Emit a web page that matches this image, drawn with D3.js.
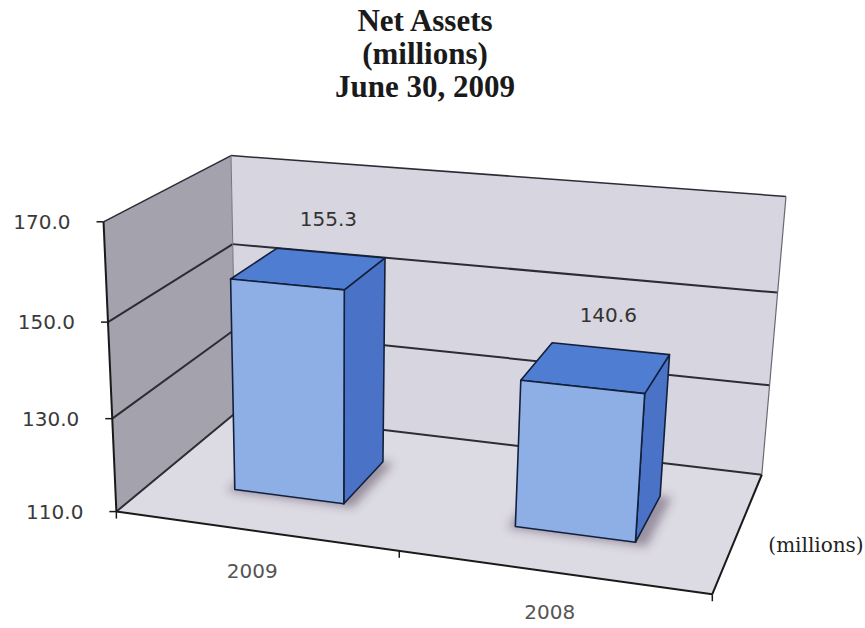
<!DOCTYPE html>
<html>
<head>
<meta charset="utf-8">
<script src="https://cdn.jsdelivr.net/npm/d3@7.9.0/dist/d3.min.js"></script>
<style>
  body { margin: 0; background: #fff; }
</style>
</head>
<body>
<svg width="865" height="628"></svg>
<script>
// chart data
const titleLines = ["Net Assets", "(millions)", "June 30, 2009"];
const categories = ["2009", "2008"];
const values = [155.3, 140.6];
const yTicks = [110, 130, 150, 170];
const unitLabel = "(millions)";

// camera calibration: unit box corners (x, y, z) and where they sit on the page
const boxCorners = [[0,0,0],[1,0,0],[0,0,1],[1,0,1],[0,1,0],[0,1,1],[1,1,1]];
const pageCorners = [[120,508],[712,598],[232,417],[763,470],[100,222],[235,154],[785,198]];

// least squares fit of a 3x4 projection (p34 = 1)
function fitCamera(world, page) {
  let A = [], b = [];
  world.forEach(([X, Y, Z], i) => {
    let [u, v] = page[i];
    A.push([X, Y, Z, 1, 0, 0, 0, 0, -u*X, -u*Y, -u*Z]); b.push(u);
    A.push([0, 0, 0, 0, X, Y, Z, 1, -v*X, -v*Y, -v*Z]); b.push(v);
  });
  let n = 11;
  let M = d3.range(n).map(i => d3.range(n + 1).map(j => {
    if (j === n) return d3.sum(A, (r, k) => r[i] * b[k]);
    return d3.sum(A, r => r[i] * r[j]);
  }));
  for (let c = 0; c < n; c++) {
    let piv = c;
    for (let r = c + 1; r < n; r++) if (Math.abs(M[r][c]) > Math.abs(M[piv][c])) piv = r;
    [M[c], M[piv]] = [M[piv], M[c]];
    for (let r = 0; r < n; r++) {
      if (r === c) continue;
      let f = M[r][c] / M[c][c];
      for (let k = c; k <= n; k++) M[r][k] -= f * M[c][k];
    }
  }
  return M.map((r, i) => r[n] / r[i]);
}
const p = fitCamera(boxCorners, pageCorners);
function project([X, Y, Z]) {
  let w = p[8]*X + p[9]*Y + p[10]*Z + 1;
  return [(p[0]*X + p[1]*Y + p[2]*Z + p[3]) / w, (p[4]*X + p[5]*Y + p[6]*Z + p[7]) / w];
}

let svg = d3.select("svg");
let line = d3.line();
let x = d3.scaleBand().domain(categories).range([0, 1]).paddingInner(0.6).paddingOuter(0.3);
let y = d3.scaleLinear().domain([110, 170]).range([0, 1]);
let zFront = 0.3, zBack = 0.7;

function poly(pts, fill, stroke, sw) {
  return svg.append("path")
    .attr("d", line(pts.map(project)) + "Z")
    .attr("fill", fill)
    .attr("stroke", stroke || "none")
    .attr("stroke-width", sw || 0)
    .attr("stroke-linejoin", "round");
}
function seg(a, b, stroke, sw) {
  return svg.append("path")
    .attr("d", line([a, b].map(project)))
    .attr("stroke", stroke).attr("stroke-width", sw).attr("fill", "none");
}

let defs = svg.append("defs");
defs.append("filter").attr("id", "blur").attr("x", "-50%").attr("y", "-50%").attr("width", "200%").attr("height", "200%")
  .append("feGaussianBlur").attr("stdDeviation", 5);

// walls and floor
poly([[0,0,0],[0,0,1],[0,1,1],[0,1,0]], "#a4a2ad");
poly([[0,0,1],[1,0,1],[1,1,1],[0,1,1]], "#d7d5df");
poly([[0,0,0],[1,0,0],[1,0,1],[0,0,1]], "#dcdae2");

// gridlines on side and back wall
yTicks.forEach(t => {
  let v = y(t);
  let w = t === 170 ? 1.5 : 2;
  seg([0, v, 0], [0, v, 1], "#2c2c34", w);
  seg([0, v, 1], [1, v, 1], "#2c2c34", w);
});
seg([0,0,1], [0,1,1], "#77757f", 1);
seg([1,0,1], [1,1,1], "#6a6872", 1.2);
seg([1,0,0], [1,0,1], "#1a1a1a", 2);

// soft shadows under the bars
categories.forEach((c, i) => {
  let x0 = x(c), x1 = x(c) + x.bandwidth();
  poly([[x0-0.01,0,zFront-0.02],[x1+0.02,0,zFront-0.02],[x1+0.02,0,zBack],[x0-0.01,0,zBack]], "rgba(70,55,80,0.45)")
    .attr("filter", "url(#blur)");
});

// bars
categories.forEach((c, i) => {
  let x0 = x(c), x1 = x(c) + x.bandwidth(), top = y(values[i]);
  let edge = "#13203c";
  poly([[x1,0,zFront],[x1,0,zBack],[x1,top,zBack],[x1,top,zFront]], "#4a72c6", edge, 1.6);
  poly([[x0,top,zFront],[x1,top,zFront],[x1,top,zBack],[x0,top,zBack]], "#4e7dd2", edge, 1.6);
  poly([[x0,0,zFront],[x1,0,zFront],[x1,top,zFront],[x0,top,zFront]], "#8eaee6", edge, 1.6);

  let [lx, ly] = project([(x0 + x1) / 2, top, zBack]);
  svg.append("text")
    .attr("x", lx - 2).attr("y", ly - 27)
    .attr("text-anchor", "middle")
    .attr("font-family", "DejaVu Sans").attr("font-size", 20).attr("fill", "#333")
    .text(values[i].toFixed(1));
});

// value axis on the front left edge
seg([0,0,0], [0,1,0], "#1a1a1a", 2);
yTicks.forEach(t => {
  let [ax, ay] = project([0, y(t), 0]);
  svg.append("line").attr("x1", ax - 7).attr("x2", ax).attr("y1", ay).attr("y2", ay)
    .attr("stroke", "#1a1a1a").attr("stroke-width", 1.5);
  svg.append("text")
    .attr("x", ax - 33).attr("y", ay + 7)
    .attr("text-anchor", "end")
    .attr("font-family", "DejaVu Sans").attr("font-size", 20).attr("fill", "#3a3a3a")
    .text(t.toFixed(1));
});

// category axis on the front floor edge
seg([0,0,0], [1,0,0], "#1a1a1a", 2);
[0, 0.5, 1].forEach(t => {
  let [ax, ay] = project([t, 0, 0]);
  svg.append("line").attr("x1", ax).attr("x2", ax).attr("y1", ay).attr("y2", ay + 7)
    .attr("stroke", "#1a1a1a").attr("stroke-width", 1.5);
});
categories.forEach(c => {
  let [ax, ay] = project([x(c) + x.bandwidth() / 2, 0, 0]);
  svg.append("text")
    .attr("x", ax - 2).attr("y", ay + 47)
    .attr("text-anchor", "middle")
    .attr("font-family", "DejaVu Sans").attr("font-size", 20).attr("fill", "#555")
    .text(c);
});

// depth axis unit
svg.append("text")
  .attr("x", 816).attr("y", 552)
  .attr("text-anchor", "middle")
  .attr("font-family", "DejaVu Serif").attr("font-size", 20).attr("fill", "#222")
  .text(unitLabel);

// title
svg.append("g").selectAll("text").data(titleLines).join("text")
  .attr("x", 425).attr("y", (d, i) => 31 + i * 33)
  .attr("text-anchor", "middle")
  .attr("font-family", "Liberation Serif").attr("font-weight", "bold")
  .attr("font-size", 31).attr("fill", "#1a1a1a")
  .text(d => d);
</script>
</body>
</html>
